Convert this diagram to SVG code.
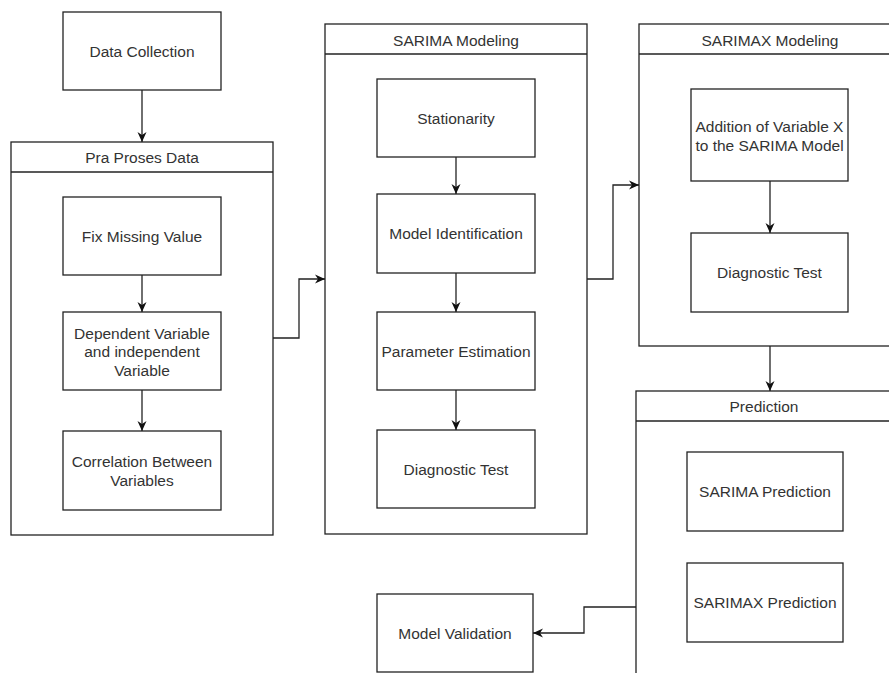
<svg xmlns="http://www.w3.org/2000/svg" width="889" height="673" viewBox="0 0 889 673">
<style>
  .box{fill:#fff;stroke:#222;stroke-width:1.3}
  .hdr{fill:none;stroke:#222;stroke-width:1.3}
  .t{font-family:"Liberation Sans",Arial,sans-serif;font-size:15.5px;fill:#333;text-anchor:middle}
  .c{fill:none;stroke:#222;stroke-width:1.3}
</style>
<defs>
  <marker id="arr" viewBox="0 0 10 10" refX="10" refY="5" markerWidth="10" markerHeight="10" markerUnits="userSpaceOnUse" orient="auto">
    <path d="M0,0.5 L10,5 L0,9.5 L3,5 z" fill="#111"/>
  </marker>
</defs>
<rect width="889" height="673" fill="#fff"/>

<g id="data-collection">
  <rect class="box" x="63" y="12" width="158" height="78"/>
  <text class="t" x="142" y="57">Data Collection</text>
</g>

<g id="pra-proses">
  <rect class="box" x="11" y="142" width="262" height="393"/>
  <line class="hdr" x1="11" y1="172" x2="273" y2="172"/>
  <text class="t" x="142" y="163">Pra Proses Data</text>
</g>
<g id="fix-missing">
  <rect class="box" x="63" y="197" width="158" height="78"/>
  <text class="t" x="142" y="242">Fix Missing Value</text>
</g>
<g id="dependent">
  <rect class="box" x="63" y="312" width="158" height="78"/>
  <text class="t" x="142" y="338.5">Dependent Variable</text>
  <text class="t" x="142" y="357">and independent</text>
  <text class="t" x="142" y="375.5">Variable</text>
</g>
<g id="correlation">
  <rect class="box" x="63" y="431" width="158" height="79"/>
  <text class="t" x="142" y="467">Correlation Between</text>
  <text class="t" x="142" y="485.5">Variables</text>
</g>

<g id="sarima">
  <rect class="box" x="325" y="24" width="262" height="510"/>
  <line class="hdr" x1="325" y1="54" x2="587" y2="54"/>
  <text class="t" x="456" y="45.5">SARIMA Modeling</text>
</g>
<g id="stationarity">
  <rect class="box" x="377" y="79" width="158" height="78"/>
  <text class="t" x="456" y="124">Stationarity</text>
</g>
<g id="model-identification">
  <rect class="box" x="377" y="194" width="158" height="79"/>
  <text class="t" x="456" y="239">Model Identification</text>
</g>
<g id="parameter-estimation">
  <rect class="box" x="377" y="312" width="158" height="78"/>
  <text class="t" x="456" y="357">Parameter Estimation</text>
</g>
<g id="sarima-diagnostic">
  <rect class="box" x="377" y="430" width="158" height="78"/>
  <text class="t" x="456" y="475">Diagnostic Test</text>
</g>

<g id="sarimax">
  <rect class="box" x="639" y="24" width="262" height="322"/>
  <line class="hdr" x1="639" y1="54" x2="901" y2="54"/>
  <text class="t" x="770" y="45.5">SARIMAX Modeling</text>
</g>
<g id="addition">
  <rect class="box" x="691" y="89" width="157" height="92"/>
  <text class="t" x="769.5" y="132">Addition of Variable X</text>
  <text class="t" x="769.5" y="151">to the SARIMA Model</text>
</g>
<g id="sarimax-diagnostic">
  <rect class="box" x="691" y="233" width="157" height="79"/>
  <text class="t" x="769.5" y="278">Diagnostic Test</text>
</g>

<g id="prediction">
  <rect class="box" x="636" y="391" width="265" height="300"/>
  <line class="hdr" x1="636" y1="421" x2="901" y2="421"/>
  <text class="t" x="764" y="412">Prediction</text>
</g>
<g id="sarima-prediction">
  <rect class="box" x="687" y="452" width="156" height="79"/>
  <text class="t" x="765" y="497">SARIMA Prediction</text>
</g>
<g id="sarimax-prediction">
  <rect class="box" x="687" y="563" width="156" height="79"/>
  <text class="t" x="765" y="608">SARIMAX Prediction</text>
</g>

<g id="model-validation">
  <rect class="box" x="377" y="594" width="156" height="78"/>
  <text class="t" x="455" y="638.5">Model Validation</text>
</g>

<g id="connectors">
  <path class="c" d="M142,90 L142,142" marker-end="url(#arr)"/>
  <path class="c" d="M142,275 L142,312" marker-end="url(#arr)"/>
  <path class="c" d="M142,390 L142,431" marker-end="url(#arr)"/>
  <path class="c" d="M273,338 L299,338 L299,279 L325,279" marker-end="url(#arr)"/>
  <path class="c" d="M456,157 L456,194" marker-end="url(#arr)"/>
  <path class="c" d="M456,273 L456,312" marker-end="url(#arr)"/>
  <path class="c" d="M456,390 L456,430" marker-end="url(#arr)"/>
  <path class="c" d="M587,279 L613,279 L613,185 L639,185" marker-end="url(#arr)"/>
  <path class="c" d="M770,181 L770,233" marker-end="url(#arr)"/>
  <path class="c" d="M770,346 L770,391" marker-end="url(#arr)"/>
  <path class="c" d="M636,607 L584,607 L584,633 L533,633" marker-end="url(#arr)"/>
</g>
</svg>
